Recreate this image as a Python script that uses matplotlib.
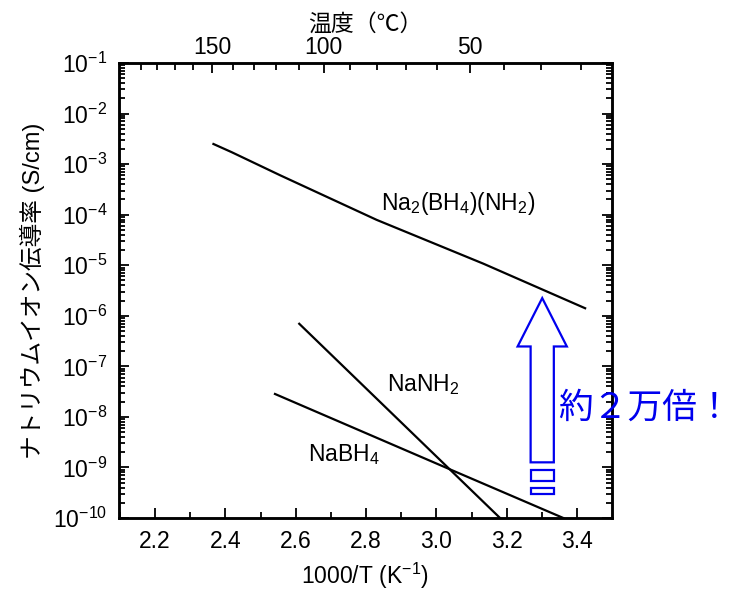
import numpy as np
import matplotlib
matplotlib.use("Agg")
import matplotlib.pyplot as plt
from matplotlib.patches import Polygon, Rectangle
from matplotlib.ticker import LogLocator, FixedLocator, MultipleLocator, LogFormatterSciNotation

plt.rcParams['font.family'] = ['Liberation Sans', 'Noto Sans CJK JP', 'DejaVu Sans']
plt.rcParams['mathtext.fontset'] = 'custom'
plt.rcParams['mathtext.rm'] = 'Liberation Sans'
plt.rcParams['mathtext.it'] = 'Liberation Sans:italic'

# data (x = 1000/T, y = conductivity S/cm)
na2_x = [2.366, 2.418, 2.556, 2.83, 3.134, 3.423]
na2_y = [2.5e-3, 1.72e-3, 6.0e-4, 7.9e-5, 1.07e-5, 1.41e-6]
nanh2_x = [2.610, 3.181]
nanh2_y = [6.95e-7, 1.0e-10]
nabh4_x = [2.541, 3.043, 3.361]
nabh4_y = [2.84e-8, 8.9e-10, 1.0e-10]

temp_major = [150, 100, 50]
temp_minor = list(range(20, 200, 10))

fs = 16.5

fig = plt.figure(figsize=(7.32, 5.97), dpi=100)
ax = fig.add_axes([118.5 / 732, 1 - 518 / 597, 493 / 732, 455 / 597])

lw = 1.6
ax.plot(na2_x, na2_y, color='black', lw=lw)
ax.plot(nanh2_x, nanh2_y, color='black', lw=lw)
ax.plot(nabh4_x, nabh4_y, color='black', lw=lw)

ax.set_yscale('log')
ax.set_xlim(2.096, 3.498)
ax.set_ylim(1e-10, 1e-1)

ax.xaxis.set_major_locator(FixedLocator([2.2, 2.4, 2.6, 2.8, 3.0, 3.2, 3.4]))
ax.xaxis.set_minor_locator(MultipleLocator(0.1))
ax.xaxis.set_major_formatter(plt.FuncFormatter(lambda v, p: f'{v:.1f}'))
ax.yaxis.set_major_locator(LogLocator(base=10, numticks=20))
ax.yaxis.set_minor_locator(LogLocator(base=10, subs=np.arange(2, 10), numticks=20))
ax.yaxis.set_major_formatter(LogFormatterSciNotation())

ax.tick_params(which='both', direction='in', bottom=True, left=True, right=True, top=False,
               width=1.3, labelsize=fs, colors='black')
ax.tick_params(which='major', length=7)
ax.tick_params(which='minor', length=4)
ax.tick_params(axis='x', pad=9)
ax.tick_params(axis='y', pad=8)
for s in ax.spines.values():
    s.set_linewidth(1.8)

ax.set_xlabel('1000/T (K$^{-1}$)', fontsize=fs, labelpad=5)
ax.set_ylabel('ナトリウムイオン伝導率 (S/cm)', fontsize=17, labelpad=6)

# top axis: temperature in C
ax2 = ax.twiny()
ax2.set_xlim(ax.get_xlim())
ax2.set_xticks([1000 / (t + 273.15) for t in temp_major])
ax2.set_xticklabels([str(t) for t in temp_major])
ax2.set_xticks([1000 / (t + 273.15) for t in temp_minor if t not in temp_major], minor=True)
ax2.tick_params(which='both', direction='in', width=1.3, labelsize=fs, pad=3)
ax2.tick_params(which='major', length=7)
ax2.tick_params(which='minor', length=5)
ax2.set_xlabel('温度（℃）', fontsize=fs, labelpad=4)
for s in ax2.spines.values():
    s.set_linewidth(1.8)

ax.text(3.061, 1.7e-4, 'Na$_2$(BH$_4$)(NH$_2$)', fontsize=fs, ha='center', va='center')
ax.text(2.962, 4.4e-8, 'NaNH$_2$', fontsize=fs, ha='center', va='center')
ax.text(2.737, 1.8e-9, 'NaBH$_4$', fontsize=fs, ha='center', va='center')

# blue outlined arrow (annotation)
cx, head_hw, shaft_hw = 3.301, 0.070, 0.033
tip, head_base, shaft_bot = -5.65, -6.607, -8.899
blue = '#0000ee'
arrow_pts = [(cx, 10 ** tip), (cx + head_hw, 10 ** head_base), (cx + shaft_hw, 10 ** head_base),
             (cx + shaft_hw, 10 ** shaft_bot), (cx - shaft_hw, 10 ** shaft_bot),
             (cx - shaft_hw, 10 ** head_base), (cx - head_hw, 10 ** head_base)]
ax.add_patch(Polygon(arrow_pts, closed=True, fill=False, edgecolor=blue, lw=1.6, clip_on=False))
for lo, hi in [(-9.275, -9.043), (-9.518, -9.405)]:
    ax.add_patch(Rectangle((cx - shaft_hw, 10 ** lo), 2 * shaft_hw, 10 ** hi - 10 ** lo,
                           fill=False, edgecolor=blue, lw=1.6))

fig.text(645 / 732, 1 - 408 / 597, '約２万倍！', color=blue, fontsize=25,
         ha='center', va='center')

fig.savefig('out.png', dpi=100)
